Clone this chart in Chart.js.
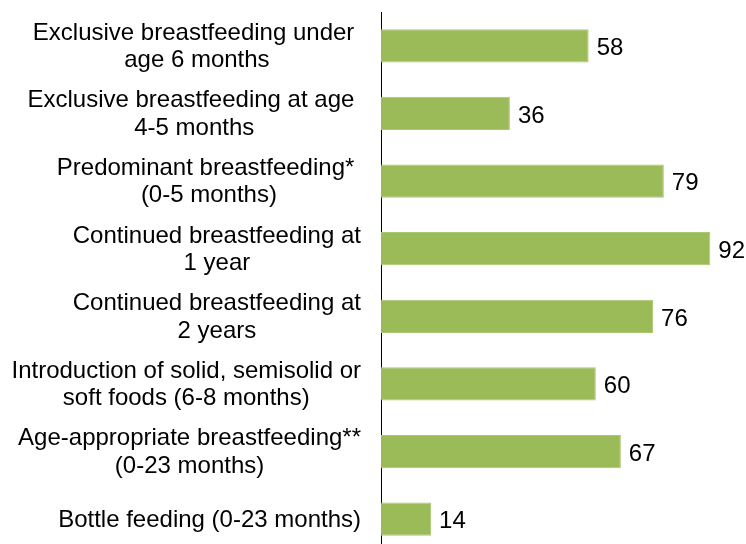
<!DOCTYPE html>
<html>
<head>
<meta charset="utf-8">
<script src="https://cdn.jsdelivr.net/npm/chart.js@4.4.1/dist/chart.umd.min.js"></script>
<style>
  html, body { margin: 0; padding: 0; background: #ffffff; overflow: hidden; }
  #wrap { position: relative; width: 746px; height: 553px; }
</style>
</head>
<body>
<div id="wrap"><canvas id="c"></canvas></div>
<script>
const categories = [
  ["Exclusive breastfeeding under ", "age 6 months"],
  ["Exclusive breastfeeding at age ", "4-5 months"],
  ["Predominant breastfeeding* ", "(0-5 months)"],
  ["Continued breastfeeding at", "1 year"],
  ["Continued breastfeeding at", "2 years"],
  ["Introduction of solid, semisolid or", "soft foods (6-8 months)"],
  ["Age-appropriate breastfeeding**", "(0-23 months)"],
  ["Bottle feeding (0-23 months)"]
];
const values = [58, 36, 79, 92, 76, 60, 67, 14];

const FONT = "24px 'Liberation Sans', Arial, sans-serif";

const labelPlugin = {
  id: 'labelPlugin',
  afterDatasetsDraw(chart) {
    const ctx = chart.ctx;
    const yScale = chart.scales.y;
    const meta = chart.getDatasetMeta(0);
    ctx.save();
    ctx.font = FONT;
    ctx.fillStyle = '#000000';
    ctx.textBaseline = 'alphabetic';
    // category labels: lines centred within a right-aligned block
    const rightEdge = chart.chartArea.left - 20;
    const lineH = 27.5;
    categories.forEach((lines, i) => {
      const y = yScale.getPixelForValue(i);
      let maxW = 0;
      lines.forEach(l => { maxW = Math.max(maxW, ctx.measureText(l).width); });
      const cx = rightEdge - maxW / 2;
      ctx.textAlign = 'center';
      const n = lines.length;
      lines.forEach((l, k) => {
        ctx.fillText(l, cx, y + (k - (n - 1) / 2) * lineH + 7.6);
      });
    });
    // value labels
    ctx.textAlign = 'left';
    meta.data.forEach((bar, i) => {
      ctx.fillText(String(values[i]), bar.x + 8, bar.y + 9.3);
    });
    ctx.restore();
  }
};

new Chart(document.getElementById('c'), {
  type: 'bar',
  data: {
    labels: categories,
    datasets: [{
      data: values,
      backgroundColor: '#9BBB59',
      borderColor: '#A9C872',
      borderWidth: 1,
      borderSkipped: 'start',
      barPercentage: 1,
      categoryPercentage: 0.49
    }]
  },
  options: {
    indexAxis: 'y',
    responsive: true,
    maintainAspectRatio: false,
    animation: false,
    layout: { padding: { left: 381, right: 7, top: 12, bottom: 0 } },
    plugins: {
      legend: { display: false },
      tooltip: { enabled: false }
    },
    scales: {
      x: {
        display: false,
        min: 0,
        max: 100
      },
      y: {
        display: true,
        grid: { display: false, drawTicks: false },
        border: { display: true, color: '#000000', width: 1 },
        ticks: { display: false }
      }
    }
  },
  plugins: [labelPlugin]
});
</script>
</body>
</html>
